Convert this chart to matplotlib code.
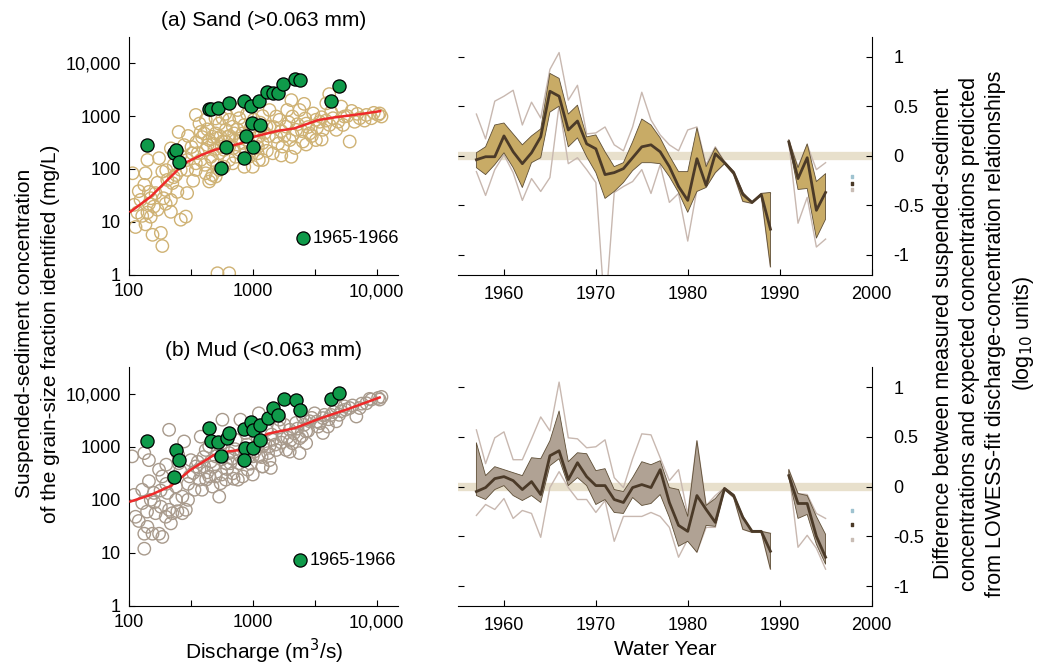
import numpy as np
from matplotlib import pyplot as plt

plt.rcParams['font.family'] = ['Liberation Sans', 'DejaVu Sans']

# ---- scatter data (discharge m3/s, concentration mg/L) ----
sand_q = [107, 110, 117, 113, 128, 136, 141, 150, 155, 159, 170, 181, 186, 164, 133, 145, 136, 141,
          175, 186, 204, 218, 218, 262, 288, 224, 246, 295, 252, 371, 347, 218, 279, 295, 325, 347,
          380, 417, 417, 458, 473, 405, 445, 502, 536, 569, 606, 645, 690, 728, 778, 755, 830, 855,
          930, 1000, 1070, 1170, 473, 445, 502, 536, 645, 728, 519, 645, 417, 569, 347, 295, 262,
          240, 198, 198, 145, 124, 490, 536, 587, 645, 690, 778, 830, 880, 910, 970, 587, 519, 458,
          431, 473, 550, 630, 708, 855, 1020, 1120, 1095, 1200,
          1120, 1200, 1290, 1365, 1450, 1550, 1645, 1740, 1860, 1990, 2050, 2090, 2240, 2390, 2540,
          2700, 2880, 3080, 3240, 3470, 3690, 3930, 4170, 4450, 4730, 5190, 5500, 5370, 6070, 6650,
          7310, 8280, 9080, 10300, 10960, 10600, 4150, 1550, 2700, 3240, 2050, 1365,
          320, 350, 390, 430, 480, 520, 560, 600, 650, 700, 750, 800, 860, 940, 1050, 1150, 1250,
          1350, 1480, 1600, 1700, 1800, 1950, 2100, 2300, 2500, 2650, 2800, 3000, 3300, 3600, 3900,
          4300, 4900, 5800, 6300, 7000, 8000, 9500, 1100, 1300, 1700, 2200, 900, 600, 500, 380, 300,
          260, 230, 200, 170, 150, 120, 190, 230, 330, 360, 410, 1200, 2600, 1900, 3600]
sand_c = [83, 21, 15, 8, 13, 9, 15, 12.5, 5.7, 19.5, 17, 6.2, 3.5, 35, 50, 37, 83, 148,
          160, 89, 62, 26, 15.5, 11, 12.6, 54, 37, 35, 500, 720, 1050, 245, 282, 148, 198, 96,
          148, 230, 83, 66, 148, 470, 352, 470, 720, 330, 550, 850, 630, 352, 910, 1300, 470, 110,
          170, 110, 310, 630, 77, 58, 72, 96, 148, 170, 1.07, 1.07, 850, 910, 128, 96, 96,
          77, 40, 22, 22, 26, 230, 198, 230, 265, 128, 230, 310, 198, 352, 630, 110, 117, 170,
          282, 407, 407, 407, 470, 680, 850, 407, 198, 148,
          148, 310, 630, 1300, 198, 407, 850, 265, 630, 352, 170, 980, 550, 1300, 330,
          720, 470, 1120, 352, 780, 550, 1740, 680, 910, 550, 1510, 980, 680, 330, 780,
          910, 1050, 910, 1050, 980, 1120, 2600, 980, 290, 850, 2000, 630,
          260, 320, 400, 560, 300, 380, 260, 330, 420, 250, 560, 380, 260, 500, 560, 750, 480,
          420, 620, 300, 520, 420, 760, 440, 700, 520, 900, 620, 420, 600, 950, 820,
          1200, 780, 1000, 1250, 1100, 820, 1150, 260, 220, 180, 250, 1100, 1100, 900, 500, 420,
          180, 120, 95, 55, 28, 38, 28, 70, 60, 200, 120, 1000, 1700, 1300, 360]

mud_q = [106, 133, 145, 113, 133, 133, 141, 155, 175, 186, 128, 128, 150, 164, 181, 198, 211, 218,
         224, 246, 270, 186, 175, 145, 159, 204, 240, 270, 288, 211, 252, 279, 309, 338, 371, 405,
         380, 445, 458, 502, 536, 550, 569, 606, 645, 690, 728, 778, 795, 855, 910, 1000, 1095, 1120,
         1200, 417, 347, 389, 473, 445, 606, 660, 502, 550, 880, 930, 758, 830, 371, 316, 110,
         1120, 1200, 1290, 1365, 1450, 1550, 1645, 1740, 1860, 1990, 2090, 2240, 2390, 2540, 2700,
         2880, 3160, 3370, 3690, 4050, 4300, 4730, 5190, 5500, 6070, 6870, 7310, 8280, 9080, 10300,
         10960, 10600, 1990, 2390, 1365, 1200, 3690, 2700, 4730,
         300, 330, 360, 400, 430, 480, 520, 560, 620, 680, 720, 780, 840, 900, 960, 1040, 1100,
         1180, 1260, 1330, 1420, 1520, 1620, 1700, 1800, 1900, 2000, 2150, 2300, 2500, 2600, 2800,
         3000, 3300, 3500, 3800, 4100, 4500, 5000, 5600, 6400, 7600, 8800, 260, 230, 200, 180, 160,
         140, 120, 240, 300, 420, 560, 700, 250, 200, 650, 1000, 1400]
mud_c = [660, 760, 560, 48, 23, 12, 31, 23, 23, 20, 155, 87, 100, 56, 74, 48, 65, 36,
         56, 61, 56, 276, 370, 225, 135, 135, 178, 115, 65, 2090, 490, 1260, 276, 155, 240, 426,
         1550, 1020, 525, 276, 115, 205, 3240, 490, 760, 316, 1350, 490, 3240, 870, 370, 660, 1020, 4270,
         426, 870, 426, 155, 178, 276, 240, 490, 660, 1020, 1820, 660, 240, 276, 370, 560, 124,
         660, 1020, 2090, 560, 1350, 870, 3240, 1550, 870, 2090, 1170, 2820, 1450, 3720, 1950,
         3020, 4270, 2400, 3470, 2400, 3980, 3020, 4680, 5770, 5370, 3720, 5370, 6610, 7760, 8320,
         8710, 7760, 810, 760, 1020, 426, 1820, 1170, 5770,
         200, 320, 520, 640, 330, 420, 820, 580, 380, 600, 900, 700, 560, 1100, 480, 820, 1400,
         640, 1150, 760, 1700, 1100, 2300, 1200, 2600, 1500, 1300, 1800, 2200, 1600, 2600, 2000,
         3500, 3000, 2800, 4000, 3300, 4500, 4000, 5000, 6000, 6500, 8000, 350, 260, 200, 150, 90,
         60, 40, 100, 100, 240, 300, 250, 700, 460, 1700, 300, 400]

# 1965-1966 samples
sand_q65 = [141, 229, 240, 254, 446, 458, 522, 648, 553, 606, 855, 970, 1115, 890, 1000, 855, 985,
            1150, 1310, 1450, 1600, 1770, 2190, 2430, 4270, 4930]
sand_c65 = [283, 198, 229, 134, 1340, 1350, 1440, 1780, 106, 257, 1910, 1550, 1910, 420, 264, 159, 727,
            676, 2880, 2690, 2690, 3990, 5120, 4780, 1910, 3690]
mud_q65 = [141, 240, 254, 229, 446, 458, 522, 620, 648, 553, 855, 970, 1000, 1135, 870, 1000, 1150,
           855, 1320, 1450, 1590, 1780, 2240, 2430, 4270, 4930]
mud_c65 = [1310, 875, 568, 264, 2240, 1260, 1230, 1450, 1820, 660, 2150, 2880, 2090, 2600, 950, 950, 1350,
           568, 3470, 5370, 4000, 8040, 7460, 4990, 7940, 10300]

# LOWESS fits
sand_fit_q = [103, 150, 205, 280, 384, 490, 804, 1025, 1585, 2180, 3380, 4600, 7550, 10700]
sand_fit_c = [15.6, 30, 62, 128, 183, 229, 305, 407, 525, 587, 840, 945, 1095, 1240]
mud_fit_q = [103, 150, 218, 316, 490, 630, 804, 1095, 1320, 2180, 3560, 5870, 10600]
mud_fit_c = [93, 124, 183, 370, 710, 815, 875, 1350, 1760, 2240, 3470, 5130, 8500]

# ---- residual time series (log10 units); 1990 missing ----
years = list(range(1957, 1996))
nan = np.nan
sand_mid = [-0.04, -0.01, -0.01, 0.20, 0.04, -0.08, 0.03, 0.19, 0.65, 0.60, 0.26, 0.35, 0.12, 0.07,
            -0.19, -0.17, -0.13, -0.02, 0.09, 0.11, 0.04, -0.11, -0.31, -0.45, -0.03, -0.30, 0.02,
            -0.07, -0.17, -0.39, -0.47, -0.39, -0.74, nan, 0.14, -0.23, -0.02, -0.55, -0.37]
sand_hi = [0.03, 0.09, 0.31, 0.33, 0.22, 0.11, 0.20, 0.27, 0.83, 0.78, 0.42, 0.51, 0.19, 0.21,
           0.04, -0.11, -0.07, 0.14, 0.37, 0.31, 0.18, 0.00, -0.16, -0.16, 0.28, -0.11, 0.08,
           -0.06, -0.16, -0.37, -0.47, -0.38, -0.37, nan, 0.16, -0.12, 0.12, -0.26, -0.18]
sand_lo = [-0.12, -0.19, -0.09, 0.03, -0.12, -0.32, -0.07, -0.02, 0.44, 0.50, 0.09, 0.18, -0.01, -0.17,
           -0.43, -0.36, -0.27, -0.15, -0.07, -0.07, -0.08, -0.21, -0.37, -0.57, -0.36, -0.32, -0.17,
           -0.08, -0.19, -0.46, -0.48, -0.40, -1.12, nan, 0.13, -0.34, -0.33, -0.83, -0.64]
sand_max = [0.42, 0.17, 0.55, 0.60, 0.66, 0.31, 0.54, 0.38, 0.87, 1.04, 0.56, 0.71, 0.22, 0.23,
            0.29, 0.11, 0.05, 0.29, 0.64, 0.36, 0.21, 0.11, 0.05, 0.26, 0.29, -0.09, 0.09,
            -0.06, -0.16, -0.37, -0.47, -0.38, -0.38, nan, 0.16, -0.11, 0.11, -0.14, -0.07]
sand_min = [-0.16, -0.40, -0.14, 0.01, -0.17, -0.45, -0.23, -0.36, -0.22, 0.51, -0.08, -0.02, -0.14, -0.27,
            -1.6, -0.37, -0.31, -0.26, -0.14, -0.38, -0.09, -0.47, -0.38, -0.86, -0.34, -0.31, -0.17,
            -0.08, -0.19, -0.46, -0.48, -0.40, -1.12, nan, 0.13, -0.68, -0.42, -0.92, -0.84]

mud_mid = [-0.05, -0.01, 0.08, 0.10, 0.06, -0.03, 0.05, -0.08, 0.31, 0.36, 0.07, 0.24, 0.10, 0.01,
           0.01, -0.13, -0.16, -0.01, 0.02, -0.01, 0.17, -0.16, -0.39, -0.45, -0.09, -0.23, -0.36,
           -0.02, -0.09, -0.31, -0.45, -0.45, -0.65, nan, 0.11, -0.17, -0.17, -0.50, -0.71]
mud_hi = [0.44, 0.11, 0.20, 0.17, 0.14, 0.11, 0.29, 0.28, 0.46, 0.76, 0.25, 0.34, 0.33, 0.16,
          0.18, -0.03, -0.05, 0.09, 0.25, 0.22, 0.26, -0.01, -0.03, -0.30, 0.46, -0.19, -0.12,
          -0.01, -0.08, -0.30, -0.45, -0.45, -0.47, nan, 0.17, -0.07, -0.09, -0.30, -0.48]
mud_lo = [-0.09, -0.13, -0.03, 0.01, -0.09, -0.14, -0.09, -0.16, 0.21, 0.28, 0.01, 0.09, 0.01, -0.18,
          -0.13, -0.26, -0.27, -0.11, -0.19, -0.17, -0.08, -0.31, -0.60, -0.55, -0.66, -0.39, -0.40,
          -0.03, -0.11, -0.43, -0.46, -0.46, -0.83, nan, 0.09, -0.32, -0.28, -0.58, -0.78]
mud_max = [0.57, 0.23, 0.49, 0.55, 0.27, 0.27, 0.48, 0.70, 0.56, 1.05, 0.49, 0.48, 0.39, 0.40,
           0.47, 0.09, -0.01, 0.28, 0.53, 0.52, 0.29, 0.06, 0.17, -0.28, 0.46, -0.19, -0.09,
           -0.01, -0.08, -0.30, -0.45, -0.45, -0.47, nan, 0.17, -0.07, -0.08, -0.27, -0.32]
mud_min = [-0.29, -0.18, -0.23, -0.12, -0.32, -0.24, -0.27, -0.51, -0.01, 0.15, -0.01, -0.13, -0.13, -0.26,
           -0.14, -0.55, -0.30, -0.30, -0.30, -0.26, -0.30, -0.41, -0.71, -0.53, -0.66, -0.41, -0.41,
           -0.03, -0.11, -0.43, -0.46, -0.46, -0.83, nan, 0.16, -0.61, -0.49, -0.62, -0.83]

# leftover legend stubs near 1998
stub_x = [1997.9, 1997.9, 1997.9]
stub_sand_y = [-0.21, -0.28, -0.34]
stub_mud_y = [-0.24, -0.38, -0.53]
stub_colors = ['#9fc3d0', '#4b3a28', '#c9bdb5']

TAN = '#cfb274'
GREYBROWN = '#a89a8c'
GREEN = '#0f9a4a'
RED = '#ee2a2a'
DARK = '#4b3a28'
THIN = '#c8b8b0'
ZERO = '#e8e0cc'

fig = plt.figure(figsize=(10.4, 6.67), dpi=100)
ax_sand = fig.add_axes([0.124, 0.588, 0.259, 0.357])
ax_mud = fig.add_axes([0.124, 0.0915, 0.259, 0.358])
ax_rs = fig.add_axes([0.4404, 0.588, 0.3976, 0.357])
ax_rm = fig.add_axes([0.4404, 0.0915, 0.3976, 0.358])


def scatter_panel(ax, q, c, col, q65, c65, fq, fc, title, leg_xy):
    ax.scatter(q, c, s=80, facecolors='none', edgecolors=col, linewidths=1.0, zorder=2)
    ax.plot(fq, fc, color=RED, lw=1.8, zorder=3)
    ax.scatter(q65, c65, s=90, facecolors=GREEN, edgecolors='black', linewidths=0.9, zorder=4)
    ax.set_xscale('log')
    ax.set_yscale('log')
    ax.set_xlim(100, 15000)
    ax.set_ylim(1, 10 ** 4.5)
    ax.set_xticks([100, 1000, 10000])
    ax.set_xticklabels(['100', '1000', '10,000'])
    ax.set_yticks([1, 10, 100, 1000, 10000])
    ax.set_yticklabels(['1', '10', '100', '1000', '10,000'])
    ax.set_xticks([316, 3162], minor=True)
    ax.set_yticks([], minor=True)
    ax.tick_params(which='both', direction='in', length=4, labelsize=13, width=0.8, pad=6)
    for s in ['top', 'right']:
        ax.spines[s].set_visible(False)
    ax.set_title(title, fontsize=15, pad=8)
    ax.scatter([leg_xy[0]], [leg_xy[1]], s=90, facecolors=GREEN, edgecolors='black',
               linewidths=0.9, transform=ax.transAxes, clip_on=False, zorder=5)
    ax.text(leg_xy[0] + 0.035, leg_xy[1], '1965-1966', transform=ax.transAxes, fontsize=13,
            va='center', ha='left')


scatter_panel(ax_sand, sand_q, sand_c, TAN, sand_q65, sand_c65, sand_fit_q, sand_fit_c,
              '(a) Sand (>0.063 mm)', (0.646, 0.154))
scatter_panel(ax_mud, mud_q, mud_c, GREYBROWN, mud_q65, mud_c65, mud_fit_q, mud_fit_c,
              '(b) Mud (<0.063 mm)', (0.636, 0.192))
ax_mud.set_xlabel('Discharge (m$^3$/s)', fontsize=15, labelpad=4)
fig.text(0.036, 0.5, 'Suspended-sediment concentration\nof the grain-size fraction identified (mg/L)',
         rotation=90, ha='center', va='center', fontsize=15, linespacing=1.5)


def series_panel(ax, mid, hi, lo, mx, mn, fill, stub_y):
    ax.axhline(0, color=ZERO, lw=6, zorder=1)
    ax.plot(years, mx, color=THIN, lw=1, zorder=2)
    ax.plot(years, mn, color=THIN, lw=1, zorder=2)
    ax.fill_between(years, lo, hi, facecolor=fill, edgecolor='#5e4e36', lw=0.6, zorder=3)
    ax.plot(years, mid, color=DARK, lw=2, zorder=4)
    ax.scatter(stub_x, stub_y, s=3, c=stub_colors, marker='s', zorder=5)
    ax.set_xlim(1955, 2000)
    ax.set_ylim(-1.2, 1.2)
    ax.set_xticks([1960, 1970, 1980, 1990, 2000])
    ax.set_yticks([-1, -0.5, 0, 0.5, 1])
    ax.set_yticklabels(['-1', '-0.5', '0', '0.5', '1'])
    ax.tick_params(axis='x', direction='in', length=4, labelsize=13, pad=8)
    ax.tick_params(axis='y', direction='in', length=4, labelsize=13, left=True, right=True,
                   labelleft=False, labelright=True, pad=16)
    for lab in ax.get_yticklabels():
        lab.set_horizontalalignment('left')
    ax.spines['top'].set_visible(False)
    ax.spines['left'].set_visible(False)


series_panel(ax_rs, sand_mid, sand_hi, sand_lo, sand_max, sand_min, '#c8ab66', stub_sand_y)
series_panel(ax_rm, mud_mid, mud_hi, mud_lo, mud_max, mud_min, '#b0a294', stub_mud_y)
ax_rm.set_xlabel('Water Year', fontsize=15, labelpad=4)
fig.text(0.947, 0.5, 'Difference between measured suspended-sediment\n'
         'concentrations and expected concentrations predicted\n'
         'from LOWESS-fit discharge-concentration relationships\n'
         '(log$_{10}$ units)', rotation=90, ha='center', va='center', fontsize=15.5,
         linespacing=1.3)

plt.savefig('out.png', dpi=100)
